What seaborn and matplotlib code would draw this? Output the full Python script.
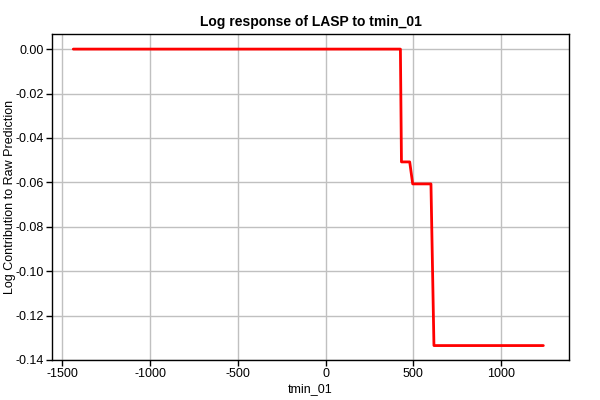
import matplotlib
matplotlib.use("Agg")
import matplotlib.pyplot as plt
import seaborn as sns
import pandas as pd

tmin_01 = [-1437, 426, 432, 479, 496, 600, 617, 1240]
log_contrib = [0.0, 0.0, -0.0508, -0.0508, -0.0607, -0.0607, -0.1335, -0.1335]

sns.set_theme(style="white")
plt.rcParams['font.family'] = ['Liberation Sans', 'DejaVu Sans']

df = pd.DataFrame({"tmin_01": tmin_01, "val": log_contrib})

fig = plt.figure(figsize=(6, 4), dpi=100)
ax = fig.add_axes([0.087, 0.1, 0.861, 0.815])
sns.lineplot(data=df, x="tmin_01", y="val", sort=False, color="#ff0000",
             linewidth=2, ax=ax, estimator=None)

ax.set_xlim(-1557, 1385)
ax.set_ylim(-0.14, 0.0068)
ax.set_xticks([-1500, -1000, -500, 0, 500, 1000])
ax.set_xticklabels(["-1500", "-1000", "-500", "0", "500", "1000"])
yt = [0.0, -0.02, -0.04, -0.06, -0.08, -0.10, -0.12, -0.14]
ax.set_yticks(yt)
ax.set_yticklabels([f"{v:.2f}" for v in yt])
ax.grid(True, color="#c0c0c0", linewidth=1)
ax.set_axisbelow(True)
for s in ax.spines.values():
    s.set_color("black")
    s.set_linewidth(1)
ax.tick_params(axis="both", direction="out", length=4, width=1, color="black",
               labelsize=9, labelcolor="black", bottom=True, left=True, pad=2)
ax.set_xlabel("tmin_01", fontsize=9, color="black", labelpad=2)
ax.set_ylabel("Log Contribution to Raw Prediction", fontsize=9, color="black", labelpad=0)
ax.yaxis.set_label_coords(-0.07, 0.5)
ax.set_title("Log response of LASP to tmin_01", fontsize=10, fontweight="bold", color="black", pad=6)

fig.savefig("out.png", dpi=100, facecolor="white")
